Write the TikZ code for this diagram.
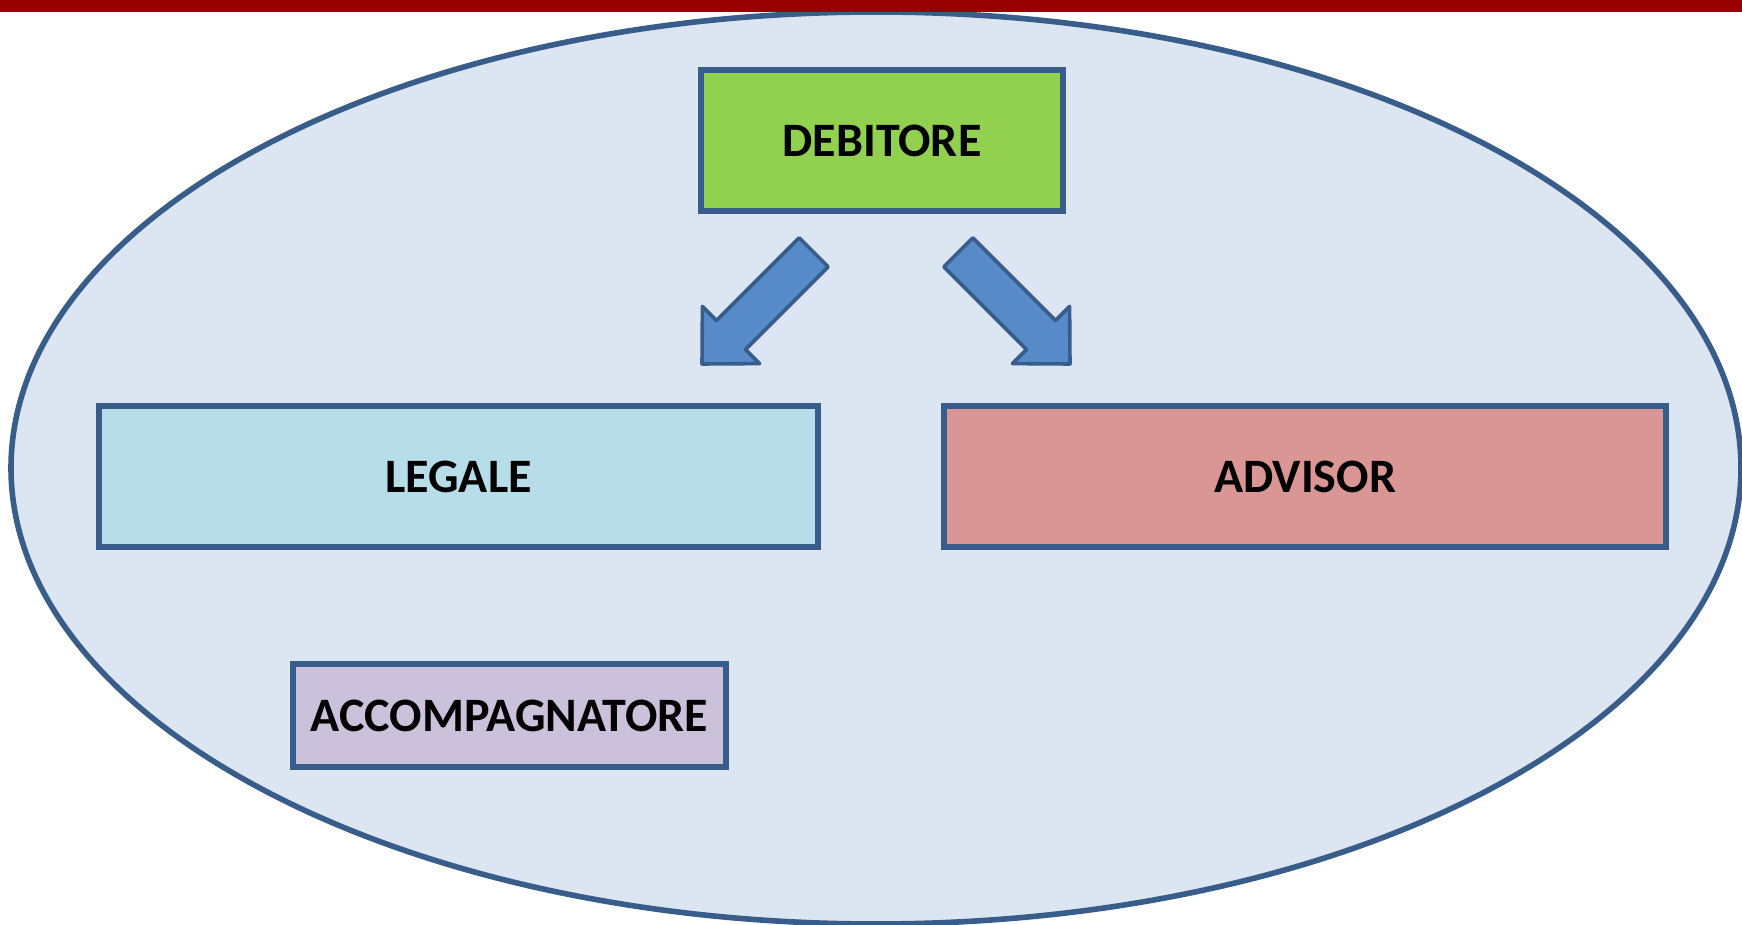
\documentclass[tikz,border=0pt]{standalone}
\usepackage{fontspec}
\setmainfont{Carlito}

\definecolor{barred}{HTML}{990000}
\definecolor{ovalfill}{HTML}{DCE6F2}
\definecolor{edgeblue}{HTML}{385D8A}
\definecolor{arrowfill}{HTML}{568AC8}
\definecolor{debgreen}{HTML}{92D050}
\definecolor{legblue}{HTML}{B7DEE8}
\definecolor{advred}{HTML}{D99694}
\definecolor{acclilac}{HTML}{CCC1DA}

\begin{document}
\begin{tikzpicture}[x=0.5pt,y=-0.5pt]
    \tikzstyle{box}=[rectangle,draw=edgeblue,line width=2.8pt,inner sep=0pt,font=\fontsize{24}{28}\selectfont\bfseries]
    \tikzstyle{blockarrow}=[fill=arrowfill,draw=edgeblue,line width=1.8pt,line join=round]
    \useasboundingbox (0,0) rectangle (1742,925);

    % the big oval and the bar on top
    \fill[ovalfill,draw=edgeblue,line width=2.8pt] (876,468) ellipse [x radius=865,y radius=456];
    \fill[barred] (0,0) rectangle (1742,11.7);

    \foreach \name/\txt/\x/\y/\w/\h/\col in {deb/DEBITORE/882/140.5/362/141/debgreen,
                                          leg/LEGALE/458.5/476.5/719/141/legblue,
                                          adv/ADVISOR/1305/476.5/722/141/advred,
                                          acc/ACCOMPAGNATORE/509.5/715.5/433/103/acclilac}
        \node[box,fill=\col,minimum width=\w*0.5pt,minimum height=\h*0.5pt] (N-\name) at (\x,\y) {\txt};

    \foreach \s in {1,-1}
        \draw[blockarrow,shift={(886,0)},xscale=\s]
            (-86.8,237.8) -- (-57.8,266.8) -- (-140.5,349.5) -- (-126.4,363.6)
            -- (-184,364) -- (-183.6,306.4) -- (-169.5,320.5) -- cycle;
\end{tikzpicture}
\end{document}
